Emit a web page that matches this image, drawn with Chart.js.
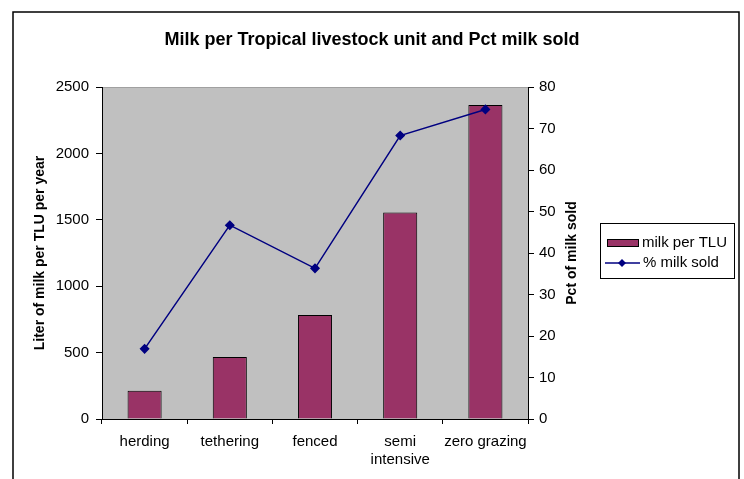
<!DOCTYPE html>
<html>
<head>
<meta charset="utf-8">
<script src="https://cdn.jsdelivr.net/npm/chart.js@4/dist/chart.umd.min.js"></script>
<style>
  html, body { margin: 0; padding: 0; background: #ffffff; }
  canvas { display: block; }
</style>
</head>
<body>
<canvas id="chart" width="744" height="479"></canvas>
<script>
// Production systems along the x axis
const categories = ['herding', 'tethering', 'fenced', ['semi', 'intensive'], 'zero grazing'];
// Litres of milk per tropical livestock unit per year (left axis)
const milkPerTLU = [213, 467, 783, 1555, 2365];
// Share of milk that is sold, percent (right axis)
const pctMilkSold = [16.9, 46.7, 36.3, 68.3, 74.6];
// Axis tick settings
const leftTicks = { min: 0, max: 2500, step: 500 };
const rightTicks = { min: 0, max: 80, step: 10 };

const FONT = 'Liberation Sans, Arial, sans-serif';
const BAR_COLOR = '#993366';
const LINE_COLOR = '#000080';

// Grey plot background and the outer frame of the chart
const framePlugin = {
  id: 'frame',
  beforeDraw(chart) {
    const { ctx, chartArea: a } = chart;
    ctx.save();
    ctx.fillStyle = '#ffffff';
    ctx.fillRect(0, 0, chart.width, chart.height);
    ctx.fillStyle = '#C0C0C0';
    ctx.fillRect(a.left, a.top, a.right - a.left, a.bottom - a.top);
    ctx.strokeStyle = '#a0a0a0';
    ctx.lineWidth = 1;
    ctx.beginPath();
    ctx.moveTo(a.left, a.top + 0.5);
    ctx.lineTo(a.right, a.top + 0.5);
    ctx.stroke();
    ctx.strokeStyle = '#000000';
    ctx.lineWidth = 1.5;
    ctx.beginPath();
    ctx.moveTo(13, chart.height + 2);
    ctx.lineTo(13, 12);
    ctx.lineTo(739, 12);
    ctx.lineTo(739, chart.height + 2);
    ctx.stroke();
    ctx.restore();
  },
  afterDraw(chart) {
    const { ctx, chartArea: a } = chart;
    ctx.save();
    // right axis title, reading bottom to top
    ctx.translate(572, (a.top + a.bottom) / 2);
    ctx.rotate(-Math.PI / 2);
    ctx.font = 'bold 14px ' + FONT;
    ctx.fillStyle = '#000000';
    ctx.textAlign = 'center';
    ctx.textBaseline = 'middle';
    ctx.fillText('Pct of milk sold', 0, 0);
    ctx.restore();

    // legend
    const ds = chart.data.datasets;
    ctx.save();
    ctx.fillStyle = '#ffffff';
    ctx.fillRect(600, 223, 135, 56);
    ctx.strokeStyle = '#000000';
    ctx.lineWidth = 1;
    ctx.strokeRect(600.5, 223.5, 134, 55);
    ctx.fillStyle = ds[0].backgroundColor;
    ctx.fillRect(607, 239, 31, 7);
    ctx.strokeStyle = '#000000';
    ctx.strokeRect(607.5, 239.5, 31, 7);
    ctx.strokeStyle = ds[1].borderColor;
    ctx.lineWidth = 1.5;
    ctx.beginPath();
    ctx.moveTo(605, 263);
    ctx.lineTo(640, 263);
    ctx.stroke();
    ctx.fillStyle = ds[1].borderColor;
    ctx.beginPath();
    ctx.moveTo(622, 259);
    ctx.lineTo(626, 263);
    ctx.lineTo(622, 267);
    ctx.lineTo(618, 263);
    ctx.closePath();
    ctx.fill();
    ctx.fillStyle = '#000000';
    ctx.font = '15px ' + FONT;
    ctx.textAlign = 'left';
    ctx.textBaseline = 'middle';
    ctx.fillText(ds[0].label, 642, 243);
    ctx.fillText(ds[1].label, 643, 263);
    ctx.restore();
  }
};

const plainNumber = (value) => String(value);

new Chart(document.getElementById('chart'), {
  data: {
    labels: categories,
    datasets: [
      {
        type: 'bar',
        label: 'milk per TLU',
        data: milkPerTLU,
        yAxisID: 'y',
        backgroundColor: BAR_COLOR,
        borderColor: '#000000',
        borderWidth: 1,
        barPercentage: 0.4,
        categoryPercentage: 1,
        order: 2
      },
      {
        type: 'line',
        label: '% milk sold',
        data: pctMilkSold,
        yAxisID: 'y1',
        borderColor: LINE_COLOR,
        backgroundColor: LINE_COLOR,
        borderWidth: 1.5,
        pointStyle: 'rectRot',
        pointRadius: 4,
        pointBackgroundColor: LINE_COLOR,
        pointBorderColor: LINE_COLOR,
        tension: 0,
        order: 1
      }
    ]
  },
  options: {
    responsive: false,
    devicePixelRatio: 1,
    animation: false,
    layout: { padding: 0 },
    plugins: {
      legend: { display: false },
      tooltip: { enabled: false },
      title: {
        display: true,
        text: 'Milk per Tropical livestock unit and Pct milk sold',
        color: '#000000',
        font: { family: FONT, size: 18, weight: 'bold' },
        padding: { top: 29, bottom: 36.4 }
      }
    },
    scales: {
      x: {
        type: 'category',
        offset: true,
        grid: { offset: true, drawOnChartArea: false, drawTicks: true, tickLength: 5, color: '#000000' },
        border: { display: true, color: '#000000', width: 1 },
        ticks: { color: '#000000', font: { family: FONT, size: 15 }, padding: 9, maxRotation: 0, autoSkip: false },
        afterFit(scale) { scale.height = 60; }
      },
      y: {
        type: 'linear',
        position: 'left',
        min: leftTicks.min,
        max: leftTicks.max,
        ticks: { stepSize: leftTicks.step, color: '#000000', font: { family: FONT, size: 15 }, padding: 7, callback: plainNumber },
        grid: { drawOnChartArea: false, drawTicks: true, tickLength: 6, color: '#000000' },
        border: { display: true, color: '#000000', width: 1 },
        title: {
          display: true,
          text: 'Liter of milk per TLU per year',
          color: '#000000',
          font: { family: FONT, size: 14, weight: 'bold' },
          padding: { top: 31.6, bottom: 0 }
        },
        afterFit(scale) { scale.width = 102; }
      },
      y1: {
        type: 'linear',
        position: 'right',
        min: rightTicks.min,
        max: rightTicks.max,
        ticks: { stepSize: rightTicks.step, color: '#000000', font: { family: FONT, size: 15 }, padding: 5, callback: plainNumber },
        grid: { drawOnChartArea: false, drawTicks: true, tickLength: 6, color: '#000000' },
        border: { display: true, color: '#000000', width: 1 },
        afterFit(scale) { scale.width = 216; }
      }
    }
  },
  plugins: [framePlugin]
});
</script>
</body>
</html>
